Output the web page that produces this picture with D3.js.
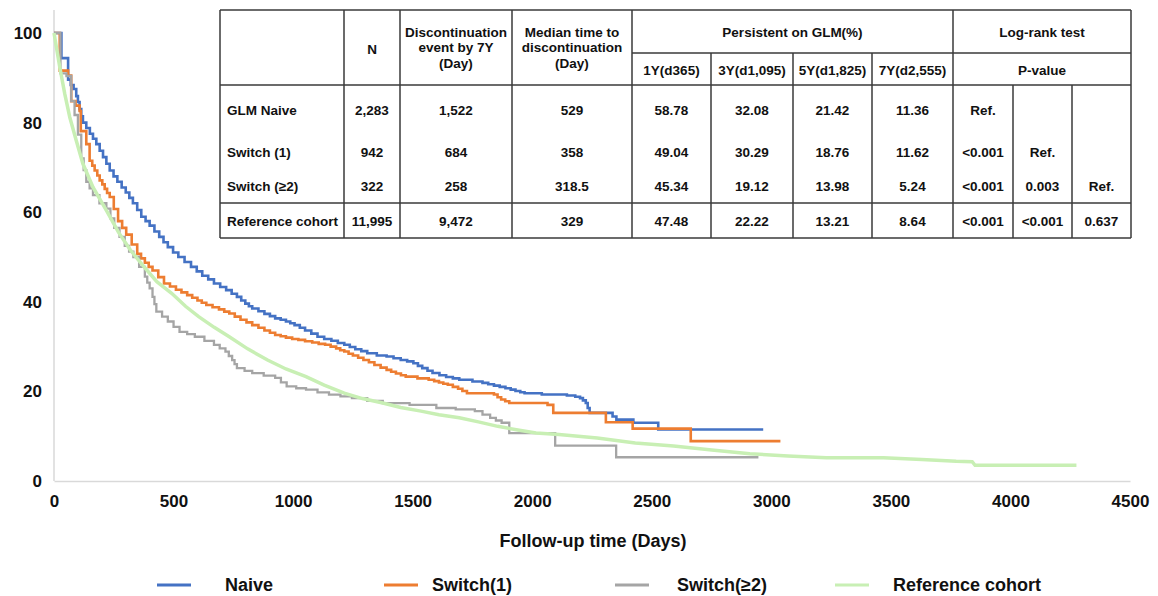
<!DOCTYPE html>
<meta charset="utf-8">
<style>
  body { margin: 0; background: #fff; }
  text { font-family: "Liberation Sans", Arial, sans-serif; font-weight: bold; fill: #111; }
  .tbl text { font-size: 13.5px; }
  .grid line { stroke: #3a3a3a; stroke-width: 1.5px; }
</style>
<svg width="1158" height="596"></svg>
<script src="https://d3js.org/d3.v7.min.js"></script>
<script>
// Kaplan-Meier curves: [day, % persistent]
var naive = [[0,100],[31,94.4],[59,89.6],[70,88.4],[82,87.5],[93,85.9],[100,84.6],[107,83],[114,81.4],[121,80],[135,78.8],[150,77.5],[163,76.4],[177,75.2],[191,73.7],[205,72.3],[219,70.8],[233,69.3],[249,68],[265,66.8],[283,65.5],[300,64.4],[315,63.2],[330,62],[348,60.5],[365,59],[383,58],[400,57],[420,55.7],[440,54.5],[458,53.3],[476,52.2],[498,51],[520,50],[546,48.9],[573,47.8],[597,46.8],[620,45.8],[645,45],[669,44.1],[695,43.3],[720,42.6],[743,41.8],[765,41.1],[783,40.3],[800,39.6],[815,39],[829,38.5],[855,37.9],[880,37.3],[903,36.8],[925,36.3],[948,36],[970,35.6],[988,35.2],[1006,34.8],[1028,34.2],[1050,33.6],[1076,32.9],[1102,32.2],[1130,31.7],[1160,31.3],[1187,30.8],[1214,30.4],[1237,29.9],[1260,29.4],[1285,29],[1310,28.5],[1350,28],[1391,27.8],[1420,27.4],[1450,27],[1477,26.7],[1503,26.3],[1522,25.7],[1540,25.2],[1562,24.6],[1583,24.1],[1612,23.6],[1640,23.2],[1668,22.9],[1695,22.6],[1750,22.2],[1792,21.9],[1816,21.6],[1840,21.3],[1864,21],[1888,20.7],[1910,20.4],[1930,20.1],[1950,19.8],[1968,19.6],[2040,19.3],[2145,19.1],[2180,18.8],[2200,18.5],[2212,18],[2224,17.4],[2232,16.3],[2240,15.2],[2336,14.4],[2352,13.7],[2423,13],[2527,11.5],[2966,11.5]];
var switch1 = [[0,100],[24,91.6],[59,90.5],[72,84.8],[90,83.8],[107,82.6],[112,78.1],[135,75.2],[149,71.5],[160,70.4],[170,69.3],[181,68.2],[191,67.1],[202,66.2],[212,65.2],[222,64.3],[233,63.4],[250,60.7],[268,58],[285,56.5],[302,55],[325,52.8],[348,50.7],[364,49.7],[380,48.7],[396,47.8],[412,47],[436,45.5],[460,44.1],[485,43.4],[510,42.7],[533,42.1],[557,41.5],[578,40.9],[600,40.3],[618,39.8],[637,39.3],[663,38.8],[690,38.3],[712,37.8],[733,37.4],[756,36.7],[780,36],[805,35.4],[829,34.8],[855,34.2],[880,33.6],[903,33.1],[925,32.6],[948,32.3],[970,32],[996,31.7],[1022,31.5],[1050,31.2],[1080,30.9],[1107,30.6],[1134,30.4],[1157,30],[1180,29.6],[1197,29.2],[1214,28.9],[1232,28.4],[1250,28],[1272,27.5],[1294,27],[1317,26.5],[1340,25.9],[1366,25.3],[1391,24.8],[1410,24.4],[1430,24],[1451,23.6],[1471,23.3],[1520,22.9],[1567,22.6],[1590,22.3],[1610,22],[1628,21.7],[1647,21.5],[1668,21],[1690,20.6],[1708,20.1],[1727,19.6],[1840,19.3],[1855,18.7],[1870,18.2],[1887,17.8],[1904,17.4],[2064,17],[2088,15.2],[2308,13.1],[2420,11.7],[2663,8.9],[3038,8.9]];
var switch2 = [[0,100],[27,91],[52,90.4],[72,84.8],[86,81.7],[100,77.3],[114,72],[124,69.4],[135,66.8],[149,65.3],[163,63.8],[190,62],[219,60.8],[236,58.6],[252,56.5],[274,54.5],[296,52.5],[314,51.2],[332,50],[356,47.8],[380,45.6],[390,44.3],[400,43],[412,41.1],[420,39.5],[428,37.8],[452,36.7],[476,35.6],[500,34.4],[525,33.3],[557,32.8],[589,32.2],[629,31.3],[669,30.4],[693,29.6],[717,28.9],[731,27.9],[745,27],[755,26.1],[765,25.2],[797,24.6],[829,24.1],[877,23.5],[925,23],[949,22],[973,21.1],[1013,20.7],[1054,20.4],[1102,19.8],[1150,19.3],[1198,18.9],[1246,18.5],[1310,17.9],[1375,17.4],[1487,17],[1599,16.3],[1680,16],[1760,15.6],[1792,14.8],[1824,14.1],[1848,13.5],[1872,13],[1904,10.7],[2096,7.9],[2351,5.3],[2946,5.3]];
var reference = [[0,100],[24,92.4],[45,86.4],[66,81.2],[93,76],[121,70.8],[163,65.6],[219,60.4],[270,55.5],[320,51.5],[380,47.6],[430,44.5],[492,41.9],[550,39],[605,36.7],[670,34.3],[733,32.2],[810,29.5],[893,27],[970,25],[1054,23.3],[1130,21.4],[1214,19.6],[1290,18.4],[1375,17.4],[1450,16.4],[1535,15.6],[1610,14.8],[1695,14.1],[1775,13.2],[1856,12.2],[1940,11.4],[2016,10.7],[2112,10.4],[2272,9.6],[2431,8.5],[2591,7.8],[2751,6.9],[2910,6.1],[3070,5.6],[3230,5.2],[3469,5.2],[3629,4.8],[3773,4.4],[3840,4.3],[3852,3.5],[4276,3.5]];

var xTicks = [0,500,1000,1500,2000,2500,3000,3500,4000,4500];
var yTicks = [0,20,40,60,80,100];
var legendNames = ["Naive","Switch(1)","Switch(≥2)","Reference cohort"];

// table contents
var rowNames = ["GLM Naive","Switch (1)","Switch (≥2)","Reference cohort"];
var nValues = ["2,283","942","322","11,995"];
var events7y = ["1,522","684","258","9,472"];
var medianDays = ["529","358","318.5","329"];
var persistHeads = ["1Y(d365)","3Y(d1,095)","5Y(d1,825)","7Y(d2,555)"];
var persist1y = ["58.78","49.04","45.34","47.48"];
var persist3y = ["32.08","30.29","19.12","22.22"];
var persist5y = ["21.42","18.76","13.98","13.21"];
var persist7y = ["11.36","11.62","5.24","8.64"];
var logRank = [["Ref.","",""],["<0.001","Ref.",""],["<0.001","0.003","Ref."],["<0.001","<0.001","0.637"]];

var svg = d3.select("svg");

var x = d3.scaleLinear().domain([0,4500]).range([54,1130]);
var y = d3.scaleLinear().domain([0,100]).range([481,33]);

// axes (no tick marks, light axis lines)
var xAxis = svg.append("g").attr("transform","translate(0,481)")
  .call(d3.axisBottom(x).tickValues(xTicks).tickSize(0).tickPadding(14).tickFormat(d3.format("d")));
xAxis.select(".domain").attr("stroke","#d9d9d9").attr("stroke-width",1.5);
xAxis.selectAll("text").style("font-size","17px").attr("fill","#111");

var yAxis = svg.append("g").attr("transform","translate(54,0)")
  .call(d3.axisLeft(y).tickValues(yTicks).tickSize(0).tickPadding(12));
yAxis.select(".domain").attr("d","M0,10V481").attr("stroke","#d9d9d9").attr("stroke-width",1.5);
yAxis.selectAll("text").style("font-size","17px").attr("fill","#111");

svg.append("text").attr("x",593).attr("y",547).attr("text-anchor","middle")
  .style("font-size","18px").text("Follow-up time (Days)");

// curves, drawn in legend order so the reference cohort sits on top
var series = [
  {data: naive, color: "#4472c4", w: 2.6, curve: d3.curveStepAfter},
  {data: switch1, color: "#ed7d31", w: 2.6, curve: d3.curveStepAfter},
  {data: switch2, color: "#a5a5a5", w: 2.3, curve: d3.curveStepAfter},
  {data: reference, color: "#c8efb4", w: 3.5, curve: d3.curveLinear}
];
series.forEach(function(s) {
  svg.append("path")
    .datum(s.data)
    .attr("fill","none")
    .attr("stroke",s.color)
    .attr("stroke-width",s.w)
    .attr("d", d3.line().x(d => x(d[0])).y(d => y(d[1])).curve(s.curve));
});

// legend
var legendColors = ["#4472c4","#ed7d31","#a5a5a5","#c8efb4"];
var legendX = [157,384,615,835];
var legend = svg.append("g").selectAll("g").data(legendNames).enter().append("g")
  .attr("transform",(d,i) => "translate(" + legendX[i] + ",585)");
legend.append("line").attr("x1",0).attr("x2",34).attr("y1",0).attr("y2",0)
  .attr("stroke",(d,i) => legendColors[i]).attr("stroke-width",3);
legend.append("text").attr("x",(d,i) => [68,48,62,58][i]).attr("y",0).attr("dy","0.36em")
  .style("font-size","18px").text(d => d);

// table
var tbl = svg.append("g").attr("class","tbl");
var cols = [220,344,400,512,632,711,793,872,953,1013,1072,1131];
var rows = [10,53,85,203,238];
tbl.append("rect").attr("x",cols[0]).attr("y",rows[0]).attr("width",cols[11]-cols[0]).attr("height",rows[4]-rows[0]).attr("fill","#fff");
var g = tbl.append("g").attr("class","grid");
var vlines = [[220,10,238],[344,10,238],[400,10,238],[512,10,238],[632,10,238],[711,53,238],[793,53,238],[872,53,238],[953,10,238],[1013,85,238],[1072,85,238],[1131,10,238]];
vlines.forEach(v => g.append("line").attr("x1",v[0]).attr("x2",v[0]).attr("y1",v[1]).attr("y2",v[2]));
var hlines = [[220,1131,10],[632,1131,53],[220,1131,85],[220,1131,203],[220,1131,238]];
hlines.forEach(h => g.append("line").attr("x1",h[0]).attr("x2",h[1]).attr("y1",h[2]).attr("y2",h[2]));

function cell(cx, cy, txt, anchor) {
  tbl.append("text").attr("x",cx).attr("y",cy).attr("dy","0.36em")
    .attr("text-anchor",anchor || "middle").text(txt);
}
function mid(i) { return (cols[i] + cols[i+1]) / 2; }

cell(mid(1),49,"N");
["Discontinuation","event by 7Y","(Day)"].forEach((t,i) => cell(mid(2),32+i*15.5,t));
["Median time to","discontinuation","(Day)"].forEach((t,i) => cell(mid(3),32+i*15.5,t));
cell((cols[4]+cols[8])/2,32,"Persistent on GLM(%)");
cell((cols[8]+cols[11])/2,32,"Log-rank test");
persistHeads.forEach((t,i) => cell(mid(4+i),70,t));
cell((cols[8]+cols[11])/2,70,"P-value");

var rowY = [110,152,186,221];
rowNames.forEach(function(name,r) {
  cell(227,rowY[r],name,"start");
  cell(mid(1),rowY[r],nValues[r]);
  cell(mid(2),rowY[r],events7y[r]);
  cell(mid(3),rowY[r],medianDays[r]);
  cell(mid(4),rowY[r],persist1y[r]);
  cell(mid(5),rowY[r],persist3y[r]);
  cell(mid(6),rowY[r],persist5y[r]);
  cell(mid(7),rowY[r],persist7y[r]);
  logRank[r].forEach((t,k) => { if (t) cell(mid(8+k),rowY[r],t); });
});
</script>
